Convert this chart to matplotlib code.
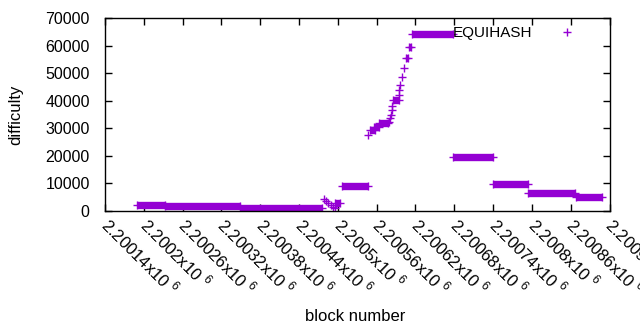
import matplotlib
matplotlib.use("Agg")
import matplotlib.pyplot as plt
import matplotlib.transforms as mtransforms

plt.rcParams['font.family'] = ['Liberation Sans', 'DejaVu Sans']
plt.rcParams['mathtext.fontset'] = 'custom'
plt.rcParams['mathtext.rm'] = 'Liberation Sans'

# flat stretches: first block, last block, difficulty
seg_start = [2200189, 2200232, 2200348, 2200496, 2200506, 2200550, 2200556, 2200564,
             2200585, 2200605, 2200610, 2200614, 2200678, 2200740, 2200794, 2200868]
seg_end = [2200232, 2200348, 2200475, 2200504, 2200547, 2200557, 2200563, 2200578,
           2200594, 2200609, 2200613, 2200678, 2200740, 2200794, 2200867, 2200908]
seg_diff = [2300, 1700, 1250, 2900, 9000, 29400, 30300, 31800,
            40100, 55400, 59400, 64200, 19700, 9700, 6400, 4950]

# single blocks
pt_block = [2200479, 2200482, 2200485, 2200489, 2200492, 2200495, 2200547,
            2200579, 2200581, 2200582, 2200583, 2200584, 2200594, 2200595,
            2200596, 2200599, 2200602]
pt_diff = [4500, 3600, 2900, 2200, 1600, 1100, 27600,
           32200, 33600, 35000, 36600, 38200, 42100, 43900,
           45800, 48700, 52000]

xtick_vals = [2200140 + 60 * i for i in range(14)]
xtick_labels = ["%gx10 $^{\\mathrm{6}}$" % (v / 1e6) for v in xtick_vals]
ytick_vals = [0, 10000, 20000, 30000, 40000, 50000, 60000, 70000]

col = '#9400D3'

fig = plt.figure(figsize=(6.4, 3.3), dpi=100)
ax = fig.add_axes([105 / 640, 1 - 211 / 330, 504.5 / 640, 193 / 330])

ax.hlines(seg_diff, seg_start, seg_end, color=col, lw=5.3, capstyle='butt')
ax.plot(seg_start + seg_end, seg_diff + seg_diff, '+', color=col, ms=6, mew=1)
ax.plot(pt_block, pt_diff, '+', color=col, ms=6, mew=1, label='EQUIHASH')

ax.set_xlim(2200140, 2200920)
ax.set_ylim(0, 70000)
ax.set_xticks(xtick_vals)
ax.set_xticklabels(xtick_labels, rotation=-45, ha='left', va='top', rotation_mode='anchor')
ax.set_yticks(ytick_vals)
ax.set_yticklabels([str(v) for v in ytick_vals])
ax.tick_params(direction='in', length=5, width=1, top=True, right=True, labelsize=12, pad=4)
ax.tick_params(axis='y', pad=11, labelsize=11.5)
for s in ax.spines.values():
    s.set_linewidth(1)

# nudge rotated labels so they start at the tick like gnuplot
shift = mtransforms.ScaledTranslation(0.07, 0.03, fig.dpi_scale_trans)
for lab in ax.get_xticklabels():
    lab.set_transform(lab.get_transform() + shift)

ax.set_xlabel('block number', fontsize=12)
ax.set_ylabel('difficulty', fontsize=12)
ax.xaxis.set_label_coords(0.496, -0.51)
ax.yaxis.set_label_coords(-0.163, 0.5)

ax.legend(loc='upper right', bbox_to_anchor=(0.966, 1.03), frameon=False,
          markerfirst=False, fontsize=11, handlelength=1.5, handletextpad=1.55)

fig.savefig('out.png', dpi=100)
